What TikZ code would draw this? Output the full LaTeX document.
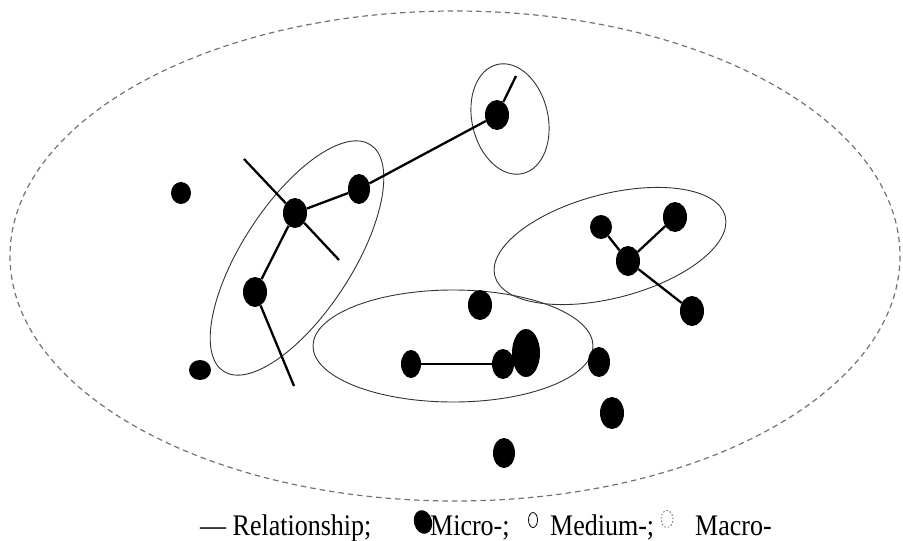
\documentclass[tikz,border=0pt]{standalone}
\usepackage{fontspec}
\setmainfont{Liberation Serif}
\usetikzlibrary{shapes.geometric}
\begin{document}
\begin{tikzpicture}[x=1pt,y=-1pt,
  dot/.style={ellipse,fill=black,draw=none,inner sep=0pt,minimum width=24pt,minimum height=30pt},
  rel/.style={line width=2.3pt,black},
  group/.style={draw=black!80,line width=0.9pt},
  macro/.style={draw=black!55,line width=1.2pt,dash pattern=on 5.5pt off 4pt},
  legend/.style={anchor=base west,inner sep=0pt,font=\fontsize{26}{28}\selectfont}]
\useasboundingbox (0,0) rectangle (903,541);
% macro boundary
\draw[macro] (455,256) ellipse [x radius=445, y radius=245];
% medium groups
\draw[group,rotate around={57:(297,258)}] (297,258) ellipse [x radius=135, y radius=55];
\draw[group,rotate around={103:(510,119)}] (510,119) ellipse [x radius=56, y radius=38];
\draw[group,rotate around={14.6:(610,246)}] (610,246) ellipse [x radius=119, y radius=52];
\draw[group] (453,346) ellipse [x radius=140, y radius=56];
% micro nodes
\node[dot,minimum width=20pt,minimum height=22pt] (a1) at (181,193) {};
\node[dot,minimum width=22pt,minimum height=20pt] (a2) at (200,370) {};
\node[dot] (c) at (295,213) {};
\node[dot,minimum width=22pt] (d) at (359,189) {};
\node[dot] (e) at (497,115) {};
\node[dot] (f) at (255,292) {};
\node[dot] (g) at (480,305) {};
\node[dot,minimum width=20pt,minimum height=28pt] (h) at (411,364) {};
\node[dot,minimum width=22pt] (i) at (503,364) {};
\node[dot,minimum width=28pt,minimum height=48pt] (j) at (526,353) {};
\node[dot,minimum width=22pt] (k) at (599,362) {};
\node[dot,minimum height=32pt] (l) at (612,413) {};
\node[dot,minimum width=22pt] (m) at (504,453) {};
\node[dot,minimum width=22pt,minimum height=24pt] (n1) at (601,227) {};
\node[dot] (n2) at (675,217) {};
\node[dot] (n3) at (628,261) {};
\node[dot] (n4) at (692,311) {};
% free ends
\coordinate (te) at (516,76);
\coordinate (tf) at (294,386);
\coordinate (tc1) at (244,159);
\coordinate (tc2) at (339,260);
% relationships
\draw[rel] (c) -- (d);
\draw[rel] (d) -- (e);
\draw[rel] (e) -- (te);
\draw[rel] (c) -- (f);
\draw[rel] (f) -- (tf);
\draw[rel] (c) -- (tc1);
\draw[rel] (c) -- (tc2);
\draw[rel] (h) -- (i);
\draw[rel] (n3) -- (n1);
\draw[rel] (n3) -- (n2);
\draw[rel] (n3) -- (n4);
% legend
\node[legend] (l1) at (200,535) {\scalebox{1}[1.15]{— Relationship;}};
\node[dot,rotate=15,minimum width=18pt,minimum height=24pt] (lmicro) at (423,522) {};
\node[legend] (l2) at (430,535) {\scalebox{1}[1.15]{Micro-;}};
\node[ellipse,draw=black,line width=0.8pt,inner sep=0pt,minimum width=9pt,minimum height=15pt] (lmed) at (533,520) {};
\node[legend] (l3) at (550,535) {\scalebox{1}[1.15]{Medium-;}};
\node[ellipse,draw=black!60,line width=0.8pt,dash pattern=on 1.5pt off 2pt,inner sep=0pt,minimum width=12pt,minimum height=17pt] (lmac) at (667,519) {};
\node[legend] (l4) at (695,535) {\scalebox{1}[1.15]{Macro-}};
\end{tikzpicture}
\end{document}
